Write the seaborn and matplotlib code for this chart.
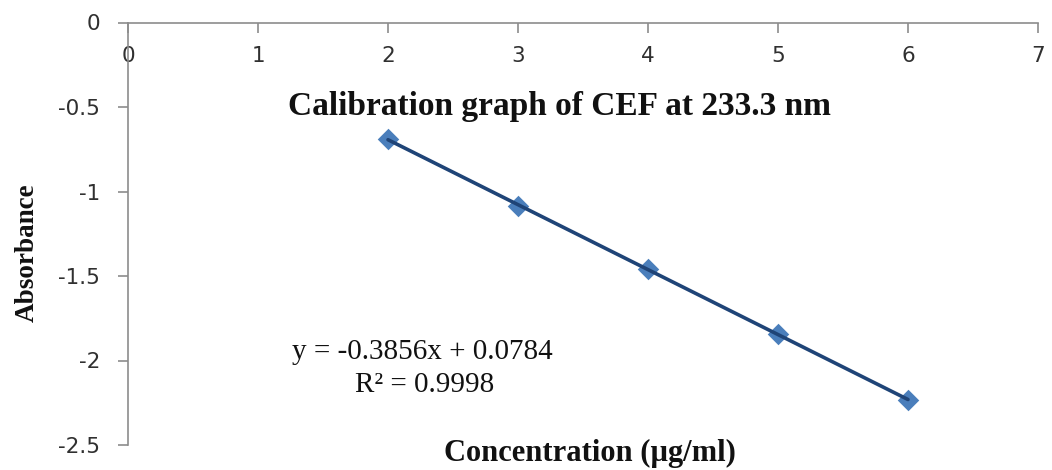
import matplotlib
matplotlib.use("Agg")
import matplotlib.pyplot as plt
import seaborn as sns
import pandas as pd

# Data
concentration = [2, 3, 4, 5, 6]
absorbance = [-0.692, -1.085, -1.457, -1.842, -2.235]
x_ticks = [0, 1, 2, 3, 4, 5, 6, 7]
y_ticks = [0, -0.5, -1, -1.5, -2, -2.5]
y_tick_labels = ["0", "-0.5", "-1", "-1.5", "-2", "-2.5"]
title_text = "Calibration graph of CEF at 233.3 nm"
equation_text = "y = -0.3856x + 0.0784"
r2_text = "R² = 0.9998"

df = pd.DataFrame({"Concentration": concentration, "Absorbance": absorbance})

sns.set_style("white")
plt.rcParams["font.family"] = ["DejaVu Sans"]

W, H = 1052, 470
fig = plt.figure(figsize=(W / 100, H / 100), dpi=100)
ax = fig.add_axes([128 / W, 1 - 445 / H, (1038 - 128) / W, (445 - 22.5) / H])

sns.regplot(
    data=df, x="Concentration", y="Absorbance", ax=ax, ci=None, marker="D",
    scatter_kws=dict(s=120, color="#4A7EBB", linewidths=0, zorder=2, alpha=1),
    line_kws=dict(color="#1F4477", linewidth=2.6, zorder=3),
)

ax.set_xlim(0, 7)
ax.set_ylim(-2.5, 0)
ax.set_xticks(x_ticks)
ax.set_yticks(y_ticks)
ax.set_yticklabels(y_tick_labels)
ax.set_xlabel("")
ax.set_ylabel("")

for side in ["top", "right"]:
    ax.spines[side].set_visible(False)
ax.spines["bottom"].set_position(("data", 0))
for side in ["bottom", "left"]:
    ax.spines[side].set_color("#8C8C8C")
    ax.spines[side].set_linewidth(1.2)

ax.tick_params(axis="x", bottom=True, direction="out", length=7, width=1.2, color="#8C8C8C",
               pad=10, labelsize=15.5, labelcolor="#303030")
ax.tick_params(axis="y", left=True, direction="out", length=7, width=1.2, color="#8C8C8C",
               pad=13, labelsize=15.5, labelcolor="#303030")

serif = ["Liberation Serif", "DejaVu Serif"]
fig.text(560 / W, 1 - 107 / H, title_text, ha="center", va="center",
         fontsize=24, fontweight="bold", family=serif, color="#111111")
fig.text(590 / W, 1 - 453 / H, "Concentration (µg/ml)", ha="center", va="center",
         fontsize=22, fontweight="bold", family=serif, color="#111111")
fig.text(27 / W, 1 - 253 / H, "Absorbance", ha="center", va="center", rotation=90,
         fontsize=19.5, fontweight="bold", family=serif, color="#111111")
fig.text(422 / W, 1 - 352 / H, equation_text, ha="center", va="center",
         fontsize=21, family=serif, color="#111111")
fig.text(425 / W, 1 - 385 / H, r2_text, ha="center", va="center",
         fontsize=21, family=serif, color="#111111")

fig.savefig("out.png", dpi=100)
